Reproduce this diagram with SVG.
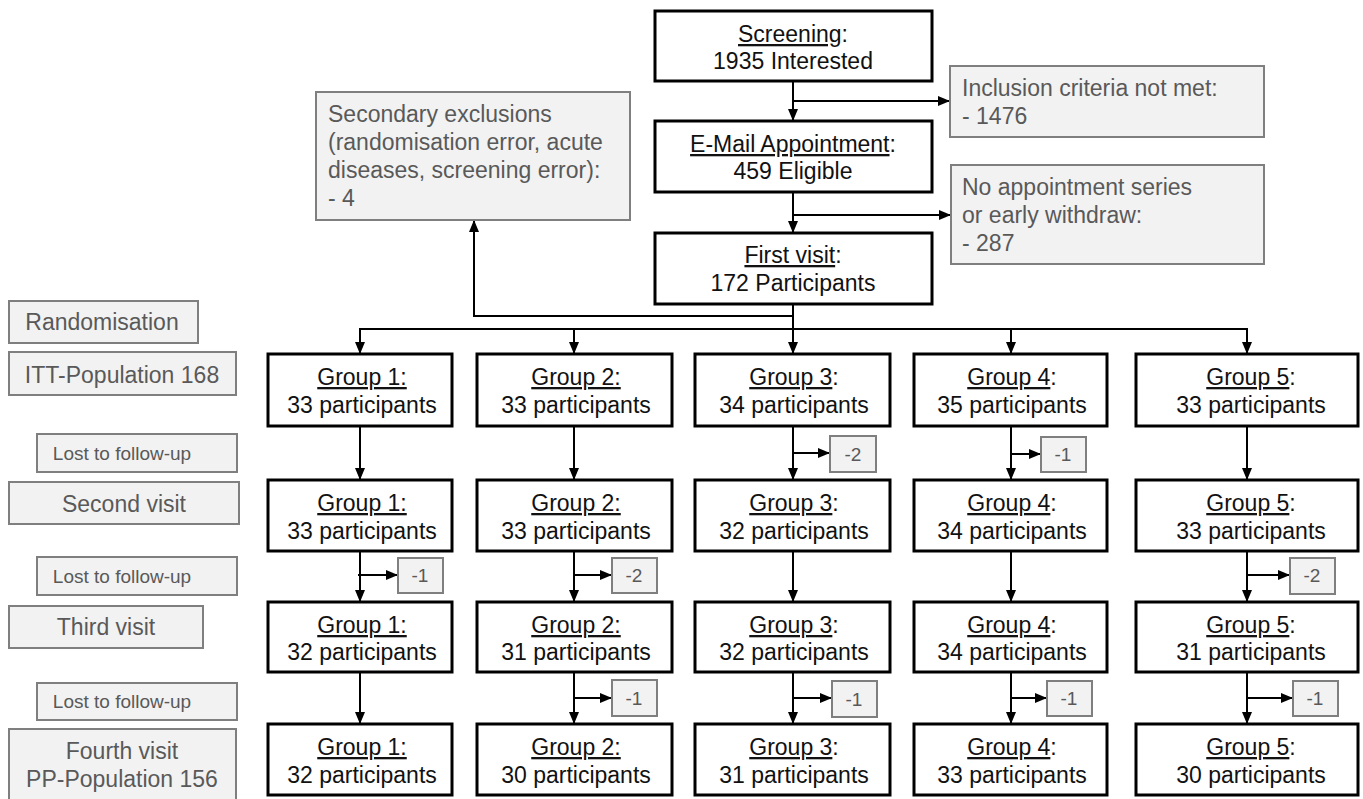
<svg xmlns="http://www.w3.org/2000/svg" width="1363" height="799" viewBox="0 0 1363 799">
<defs>
<marker id="ah" markerUnits="userSpaceOnUse" markerWidth="12" markerHeight="10" refX="12" refY="5" orient="auto">
<path d="M0,0 L12,5 L0,10 z" fill="#000"/>
</marker>
<style>
.bx{fill:#fff;stroke:#000;stroke-width:3}
.gb{fill:#f2f2f2;stroke:#7f7f7f;stroke-width:2}
.t{font-family:"Liberation Sans",Arial,sans-serif;font-size:23px;fill:#111}
.g{font-family:"Liberation Sans",Arial,sans-serif;font-size:23px;fill:#595959}
.s{font-family:"Liberation Sans",Arial,sans-serif;font-size:19px;fill:#595959}
.m{font-family:"Liberation Sans",Arial,sans-serif;font-size:19px;fill:#595959}
.c{text-anchor:middle}
.ln{fill:none;stroke:#000;stroke-width:2}
.ar{fill:none;stroke:#000;stroke-width:2;marker-end:url(#ah)}
.u{text-decoration:underline}
</style>
</defs>
<rect width="1363" height="799" fill="#fff"/>

<g id="connectors">
<line class="ar" x1="793" y1="81" x2="793" y2="121"/>
<line class="ar" x1="793" y1="101" x2="950" y2="101"/>
<line class="ar" x1="793" y1="192" x2="793" y2="233"/>
<line class="ar" x1="793" y1="215" x2="951" y2="215"/>
<line class="ln" x1="793" y1="304" x2="793" y2="329"/>
<polyline class="ar" points="793,316 474,316 474,220"/>
<line class="ln" x1="360" y1="329" x2="1247" y2="329"/>
<line class="ar" x1="360" y1="328" x2="360" y2="354"/>
<line class="ar" x1="574" y1="328" x2="574" y2="354"/>
<line class="ar" x1="793" y1="328" x2="793" y2="354"/>
<line class="ar" x1="1011" y1="328" x2="1011" y2="354"/>
<line class="ar" x1="1247" y1="328" x2="1247" y2="354"/>
<!-- row1 to row2 -->
<line class="ar" x1="360" y1="426" x2="360" y2="480"/>
<line class="ar" x1="574" y1="426" x2="574" y2="480"/>
<line class="ar" x1="793" y1="426" x2="793" y2="480"/>
<line class="ar" x1="1011" y1="426" x2="1011" y2="480"/>
<line class="ar" x1="1247" y1="426" x2="1247" y2="480"/>
<!-- row2 to row3 -->
<line class="ar" x1="360" y1="551" x2="360" y2="602"/>
<line class="ar" x1="574" y1="551" x2="574" y2="602"/>
<line class="ar" x1="793" y1="551" x2="793" y2="602"/>
<line class="ar" x1="1011" y1="551" x2="1011" y2="602"/>
<line class="ar" x1="1247" y1="551" x2="1247" y2="602"/>
<!-- row3 to row4 -->
<line class="ar" x1="360" y1="672" x2="360" y2="724"/>
<line class="ar" x1="574" y1="672" x2="574" y2="724"/>
<line class="ar" x1="793" y1="672" x2="793" y2="724"/>
<line class="ar" x1="1011" y1="672" x2="1011" y2="724"/>
<line class="ar" x1="1247" y1="672" x2="1247" y2="724"/>
<!-- side losses -->
<line class="ar" x1="792" y1="453" x2="830" y2="453"/>
<line class="ar" x1="1010" y1="454" x2="1041" y2="454"/>
<line class="ar" x1="358" y1="575" x2="398" y2="575"/>
<line class="ar" x1="573" y1="575" x2="612" y2="575"/>
<line class="ar" x1="1246" y1="575" x2="1290" y2="575"/>
<line class="ar" x1="573" y1="698" x2="612" y2="698"/>
<line class="ar" x1="792" y1="698" x2="832" y2="698"/>
<line class="ar" x1="1010" y1="698" x2="1047" y2="698"/>
<line class="ar" x1="1246" y1="698" x2="1293" y2="698"/>
</g>

<g id="screening"><rect class="bx" x="655" y="11" width="277" height="70"/>
<text class="t c" x="793" y="42"><tspan class="u">Screening</tspan>:</text>
<text class="t c" x="793" y="69">1935 Interested</text></g>
<g id="email"><rect class="bx" x="655" y="121" width="277" height="71"/>
<text class="t c" x="793" y="152"><tspan class="u">E-Mail Appointment</tspan>:</text>
<text class="t c" x="793" y="179">459 Eligible</text></g>
<g id="firstvisit"><rect class="bx" x="655" y="233" width="277" height="71"/>
<text class="t c" x="793" y="263"><tspan class="u">First visit</tspan>:</text>
<text class="t c" x="793" y="291">172 Participants</text></g>

<g id="inclusion"><rect class="gb" x="950" y="66" width="314" height="71"/>
<text class="g" x="962" y="96">Inclusion criteria not met:</text>
<text class="g" x="962" y="124">- 1476</text></g>
<g id="noappointment"><rect class="gb" x="951" y="165" width="313" height="99"/>
<text class="g" x="962" y="195">No appointment series</text>
<text class="g" x="962" y="223">or early withdraw:</text>
<text class="g" x="962" y="251">- 287</text></g>
<g id="secondary"><rect class="gb" x="316" y="92" width="314" height="128"/>
<text class="g" x="328" y="122">Secondary exclusions</text>
<text class="g" x="328" y="150">(randomisation error, acute</text>
<text class="g" x="328" y="178">diseases, screening error):</text>
<text class="g" x="328" y="206">- 4</text></g>

<g id="lbl-randomisation"><rect class="gb" x="9" y="301" width="189" height="42"/><text class="g c" x="102" y="330">Randomisation</text></g>
<g id="lbl-itt"><rect class="gb" x="9" y="352" width="227" height="43"/><text class="g c" x="122" y="383">ITT-Population 168</text></g>
<g id="lbl-lost1"><rect class="gb" x="37" y="434" width="200" height="38"/><text class="s c" x="122" y="460">Lost to follow-up</text></g>
<g id="lbl-second"><rect class="gb" x="9" y="482" width="230" height="42"/><text class="g c" x="124" y="512">Second visit</text></g>
<g id="lbl-lost2"><rect class="gb" x="37" y="557" width="200" height="38"/><text class="s c" x="122" y="583">Lost to follow-up</text></g>
<g id="lbl-third"><rect class="gb" x="9" y="606" width="194" height="42"/><text class="g c" x="106" y="635">Third visit</text></g>
<g id="lbl-lost3"><rect class="gb" x="37" y="683" width="200" height="37"/><text class="s c" x="122" y="708">Lost to follow-up</text></g>
<g id="lbl-fourth"><rect class="gb" x="9" y="729" width="227" height="80"/><text class="g c" x="122" y="759">Fourth visit</text><text class="g c" x="122" y="787">PP-Population 156</text></g>

<!-- Row 1 -->
<g id="g1r1"><rect class="bx" x="268" y="354" width="184" height="72"/><text class="t c" x="362" y="385"><tspan class="u">Group 1:</tspan></text><text class="t c" x="362" y="413">33 participants</text></g>
<g id="g2r1"><rect class="bx" x="477" y="354" width="195" height="72"/><text class="t c" x="576" y="385"><tspan class="u">Group 2:</tspan></text><text class="t c" x="576" y="413">33 participants</text></g>
<g id="g3r1"><rect class="bx" x="695" y="354" width="195" height="72"/><text class="t c" x="794" y="385"><tspan class="u">Group 3</tspan>:</text><text class="t c" x="794" y="413">34 participants</text></g>
<g id="g4r1"><rect class="bx" x="914" y="354" width="193" height="72"/><text class="t c" x="1012" y="385"><tspan class="u">Group 4</tspan>:</text><text class="t c" x="1012" y="413">35 participants</text></g>
<g id="g5r1"><rect class="bx" x="1136" y="354" width="222" height="72"/><text class="t c" x="1251" y="385"><tspan class="u">Group 5</tspan>:</text><text class="t c" x="1251" y="413">33 participants</text></g>
<!-- Row 2 -->
<g id="g1r2"><rect class="bx" x="268" y="480" width="184" height="71"/><text class="t c" x="362" y="511"><tspan class="u">Group 1:</tspan></text><text class="t c" x="362" y="539">33 participants</text></g>
<g id="g2r2"><rect class="bx" x="477" y="480" width="195" height="71"/><text class="t c" x="576" y="511"><tspan class="u">Group 2:</tspan></text><text class="t c" x="576" y="539">33 participants</text></g>
<g id="g3r2"><rect class="bx" x="695" y="480" width="195" height="71"/><text class="t c" x="794" y="511"><tspan class="u">Group 3</tspan>:</text><text class="t c" x="794" y="539">32 participants</text></g>
<g id="g4r2"><rect class="bx" x="914" y="480" width="193" height="71"/><text class="t c" x="1012" y="511"><tspan class="u">Group 4</tspan>:</text><text class="t c" x="1012" y="539">34 participants</text></g>
<g id="g5r2"><rect class="bx" x="1136" y="480" width="222" height="71"/><text class="t c" x="1251" y="511"><tspan class="u">Group 5</tspan>:</text><text class="t c" x="1251" y="539">33 participants</text></g>
<!-- Row 3 -->
<g id="g1r3"><rect class="bx" x="268" y="602" width="184" height="70"/><text class="t c" x="362" y="633"><tspan class="u">Group 1:</tspan></text><text class="t c" x="362" y="660">32 participants</text></g>
<g id="g2r3"><rect class="bx" x="477" y="602" width="195" height="70"/><text class="t c" x="576" y="633"><tspan class="u">Group 2:</tspan></text><text class="t c" x="576" y="660">31 participants</text></g>
<g id="g3r3"><rect class="bx" x="695" y="602" width="195" height="70"/><text class="t c" x="794" y="633"><tspan class="u">Group 3</tspan>:</text><text class="t c" x="794" y="660">32 participants</text></g>
<g id="g4r3"><rect class="bx" x="914" y="602" width="193" height="70"/><text class="t c" x="1012" y="633"><tspan class="u">Group 4</tspan>:</text><text class="t c" x="1012" y="660">34 participants</text></g>
<g id="g5r3"><rect class="bx" x="1136" y="602" width="222" height="70"/><text class="t c" x="1251" y="633"><tspan class="u">Group 5</tspan>:</text><text class="t c" x="1251" y="660">31 participants</text></g>
<!-- Row 4 -->
<g id="g1r4"><rect class="bx" x="268" y="724" width="184" height="71"/><text class="t c" x="362" y="755"><tspan class="u">Group 1:</tspan></text><text class="t c" x="362" y="783">32 participants</text></g>
<g id="g2r4"><rect class="bx" x="477" y="724" width="195" height="71"/><text class="t c" x="576" y="755"><tspan class="u">Group 2:</tspan></text><text class="t c" x="576" y="783">30 participants</text></g>
<g id="g3r4"><rect class="bx" x="695" y="724" width="195" height="71"/><text class="t c" x="794" y="755"><tspan class="u">Group 3</tspan>:</text><text class="t c" x="794" y="783">31 participants</text></g>
<g id="g4r4"><rect class="bx" x="914" y="724" width="193" height="71"/><text class="t c" x="1012" y="755"><tspan class="u">Group 4</tspan>:</text><text class="t c" x="1012" y="783">33 participants</text></g>
<g id="g5r4"><rect class="bx" x="1136" y="724" width="222" height="71"/><text class="t c" x="1251" y="755"><tspan class="u">Group 5</tspan>:</text><text class="t c" x="1251" y="783">30 participants</text></g>

<!-- loss boxes -->
<g id="loss-g3-12"><rect class="gb" x="830" y="436" width="46" height="36"/><text class="m c" x="853" y="461">-2</text></g>
<g id="loss-g4-12"><rect class="gb" x="1041" y="437" width="45" height="35"/><text class="m c" x="1063" y="461">-1</text></g>
<g id="loss-g1-23"><rect class="gb" x="398" y="558" width="45" height="35"/><text class="m c" x="420" y="582">-1</text></g>
<g id="loss-g2-23"><rect class="gb" x="612" y="558" width="45" height="35"/><text class="m c" x="634" y="582">-2</text></g>
<g id="loss-g5-23"><rect class="gb" x="1290" y="558" width="45" height="36"/><text class="m c" x="1312" y="582">-2</text></g>
<g id="loss-g2-34"><rect class="gb" x="612" y="680" width="45" height="36"/><text class="m c" x="634" y="705">-1</text></g>
<g id="loss-g3-34"><rect class="gb" x="832" y="681" width="45" height="36"/><text class="m c" x="854" y="706">-1</text></g>
<g id="loss-g4-34"><rect class="gb" x="1047" y="681" width="45" height="35"/><text class="m c" x="1069" y="705">-1</text></g>
<g id="loss-g5-34"><rect class="gb" x="1293" y="681" width="45" height="35"/><text class="m c" x="1315" y="705">-1</text></g>
</svg>
